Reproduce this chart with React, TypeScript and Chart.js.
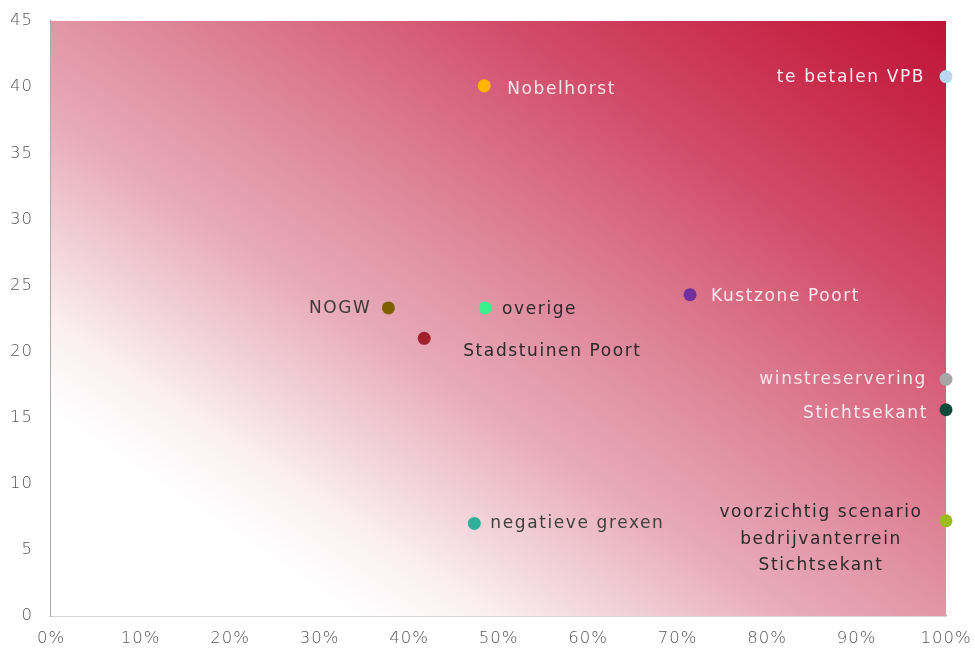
import React, { useEffect, useRef } from "react";
import { Chart, registerables } from "chart.js";

Chart.register(...registerables);

const labels = [
  "Nobelhorst",
  "te betalen VPB",
  "Kustzone Poort",
  "NOGW",
  "overige",
  "Stadstuinen Poort",
  "winstreservering",
  "Stichtsekant",
  "negatieve grexen",
  "voorzichtig scenario\nbedrijvanterrein\nStichtsekant",
];
const xValues = [48.4, 100, 71.4, 37.7, 48.5, 41.7, 100, 100, 47.3, 100];
const yValues = [40.1, 40.8, 24.3, 23.3, 23.3, 21.0, 17.9, 15.6, 7.0, 7.2];
const pointColors = [
  "#FFB400",
  "#BDD7EE",
  "#7030A0",
  "#7F6000",
  "#3CF08C",
  "#A0202C",
  "#A6A6A6",
  "#0E4A3A",
  "#2FB09A",
  "#9BBB1E",
];
// label placement: side, dx, dy, colour
const labelPlace = [
  { align: "left", dx: 23, dy: 4, color: "#F6E4E8" },
  { align: "right", dx: -21, dy: 1.5, color: "#F8ECEF" },
  { align: "left", dx: 21, dy: 2, color: "#F8E8EC" },
  { align: "right", dx: -17, dy: 0.5, color: "#3A3A3A" },
  { align: "left", dx: 17, dy: 1.5, color: "#2A2A2A" },
  { align: "left", dx: 39, dy: 13, color: "#2A2A2A" },
  { align: "right", dx: -19, dy: 0.5, color: "#F6E6EA" },
  { align: "right", dx: -18, dy: 4, color: "#F8ECEF" },
  { align: "left", dx: 16, dy: 0.5, color: "#404040" },
  { align: "center", dx: -125, dy: -8, color: "#2A2A2A" },
];
const xTicks = [0, 10, 20, 30, 40, 50, 60, 70, 80, 90, 100];

const FONT = "'DejaVu Sans', sans-serif";

const bgPlugin = {
  id: "bgGradient",
  beforeDraw(chart: any) {
    (chart.ctx as any).letterSpacing = "1px";
  },
  beforeDatasetsDraw(chart: any) {
    const { ctx, chartArea } = chart;
    const { left, right, top, bottom } = chartArea;
    const w = right - left;
    const h = bottom - top;
    ctx.save();
    ctx.beginPath();
    ctx.rect(left, top, w, h);
    ctx.clip();
    ctx.translate(left, bottom);
    ctx.scale(w, -h);
    const g = ctx.createLinearGradient(0, 0, 1, 1);
    g.addColorStop(0, "#FFFFFF");
    g.addColorStop(0.17, "#FFFFFF");
    g.addColorStop(0.25, "#FAEEF0");
    g.addColorStop(0.32, "#F2D2D9");
    g.addColorStop(0.42, "#E8AAB7");
    g.addColorStop(0.5, "#E296A6");
    g.addColorStop(0.6, "#DC7A8F");
    g.addColorStop(0.75, "#D24C6A");
    g.addColorStop(0.9, "#C82848");
    g.addColorStop(1, "#BE1438");
    ctx.fillStyle = g;
    ctx.fillRect(0, 0, 1, 1);
    ctx.restore();
  },
};

const labelPlugin = {
  id: "pointLabels",
  afterDatasetsDraw(chart: any) {
    const { ctx } = chart;
    const meta = chart.getDatasetMeta(0);
    ctx.save();
    ctx.font = `17px ${FONT}`;
    (ctx as any).letterSpacing = "1.6px";
    ctx.textBaseline = "middle";
    meta.data.forEach((pt: any, i: number) => {
      const p = labelPlace[i];
      const lines = labels[i].split("\n");
      ctx.fillStyle = p.color;
      ctx.textAlign = p.align;
      lines.forEach((ln: string, j: number) => {
        ctx.fillText(ln, pt.x + p.dx, pt.y + p.dy + j * 26.5);
      });
    });
    ctx.restore();
  },
};

export default function App() {
  const ref = useRef<HTMLCanvasElement | null>(null);
  useEffect(() => {
    document.body.style.margin = "0";
    const data = xValues.map((x, i) => ({ x, y: yValues[i] }));
    const chart = new Chart(ref.current as HTMLCanvasElement, {
      type: "scatter",
      data: {
        datasets: [
          {
            data,
            pointRadius: 6.5,
            pointHoverRadius: 6.5,
            pointBorderWidth: 0,
            pointBackgroundColor: pointColors,
            clip: false,
          } as any,
        ],
      },
      options: {
        animation: false,
        responsive: false,
        maintainAspectRatio: false,
        layout: { padding: { left: 0, right: 29, top: 21, bottom: 0 } },
        plugins: { legend: { display: false }, tooltip: { enabled: false } },
        scales: {
          x: {
            type: "linear",
            min: 0,
            max: 100,
            afterFit: (s: any) => {
              s.height = 39;
              s.paddingLeft = 0;
              s.paddingRight = 0;
            },
            afterBuildTicks: (s: any) => {
              s.ticks = xTicks.map((v) => ({ value: v }));
            },
            grid: { display: true, color: "transparent", drawTicks: false },
            border: { display: true, color: "#ABABAB", width: 1.5 },
            ticks: {
              padding: 13,
              color: "#555555",
              font: { family: FONT, size: 16.5, weight: "300" },
              callback: (v: any) => `${v}%`,
              maxRotation: 0,
            },
          },
          y: {
            type: "linear",
            min: 0,
            max: 45,
            afterFit: (s: any) => {
              s.width = 51;
              s.paddingTop = 0;
              s.paddingBottom = 0;
            },
            grid: { display: true, color: "transparent", drawTicks: false },
            border: { display: true, color: "#ABABAB", width: 1.5 },
            ticks: {
              stepSize: 5,
              padding: 18,
              color: "#555555",
              font: { family: FONT, size: 16.5, weight: "300" },
            },
          },
        },
      },
      plugins: [bgPlugin, labelPlugin],
    });
    return () => chart.destroy();
  }, []);
  return <canvas ref={ref} width={975} height={655} style={{ display: "block" }} />;
}
